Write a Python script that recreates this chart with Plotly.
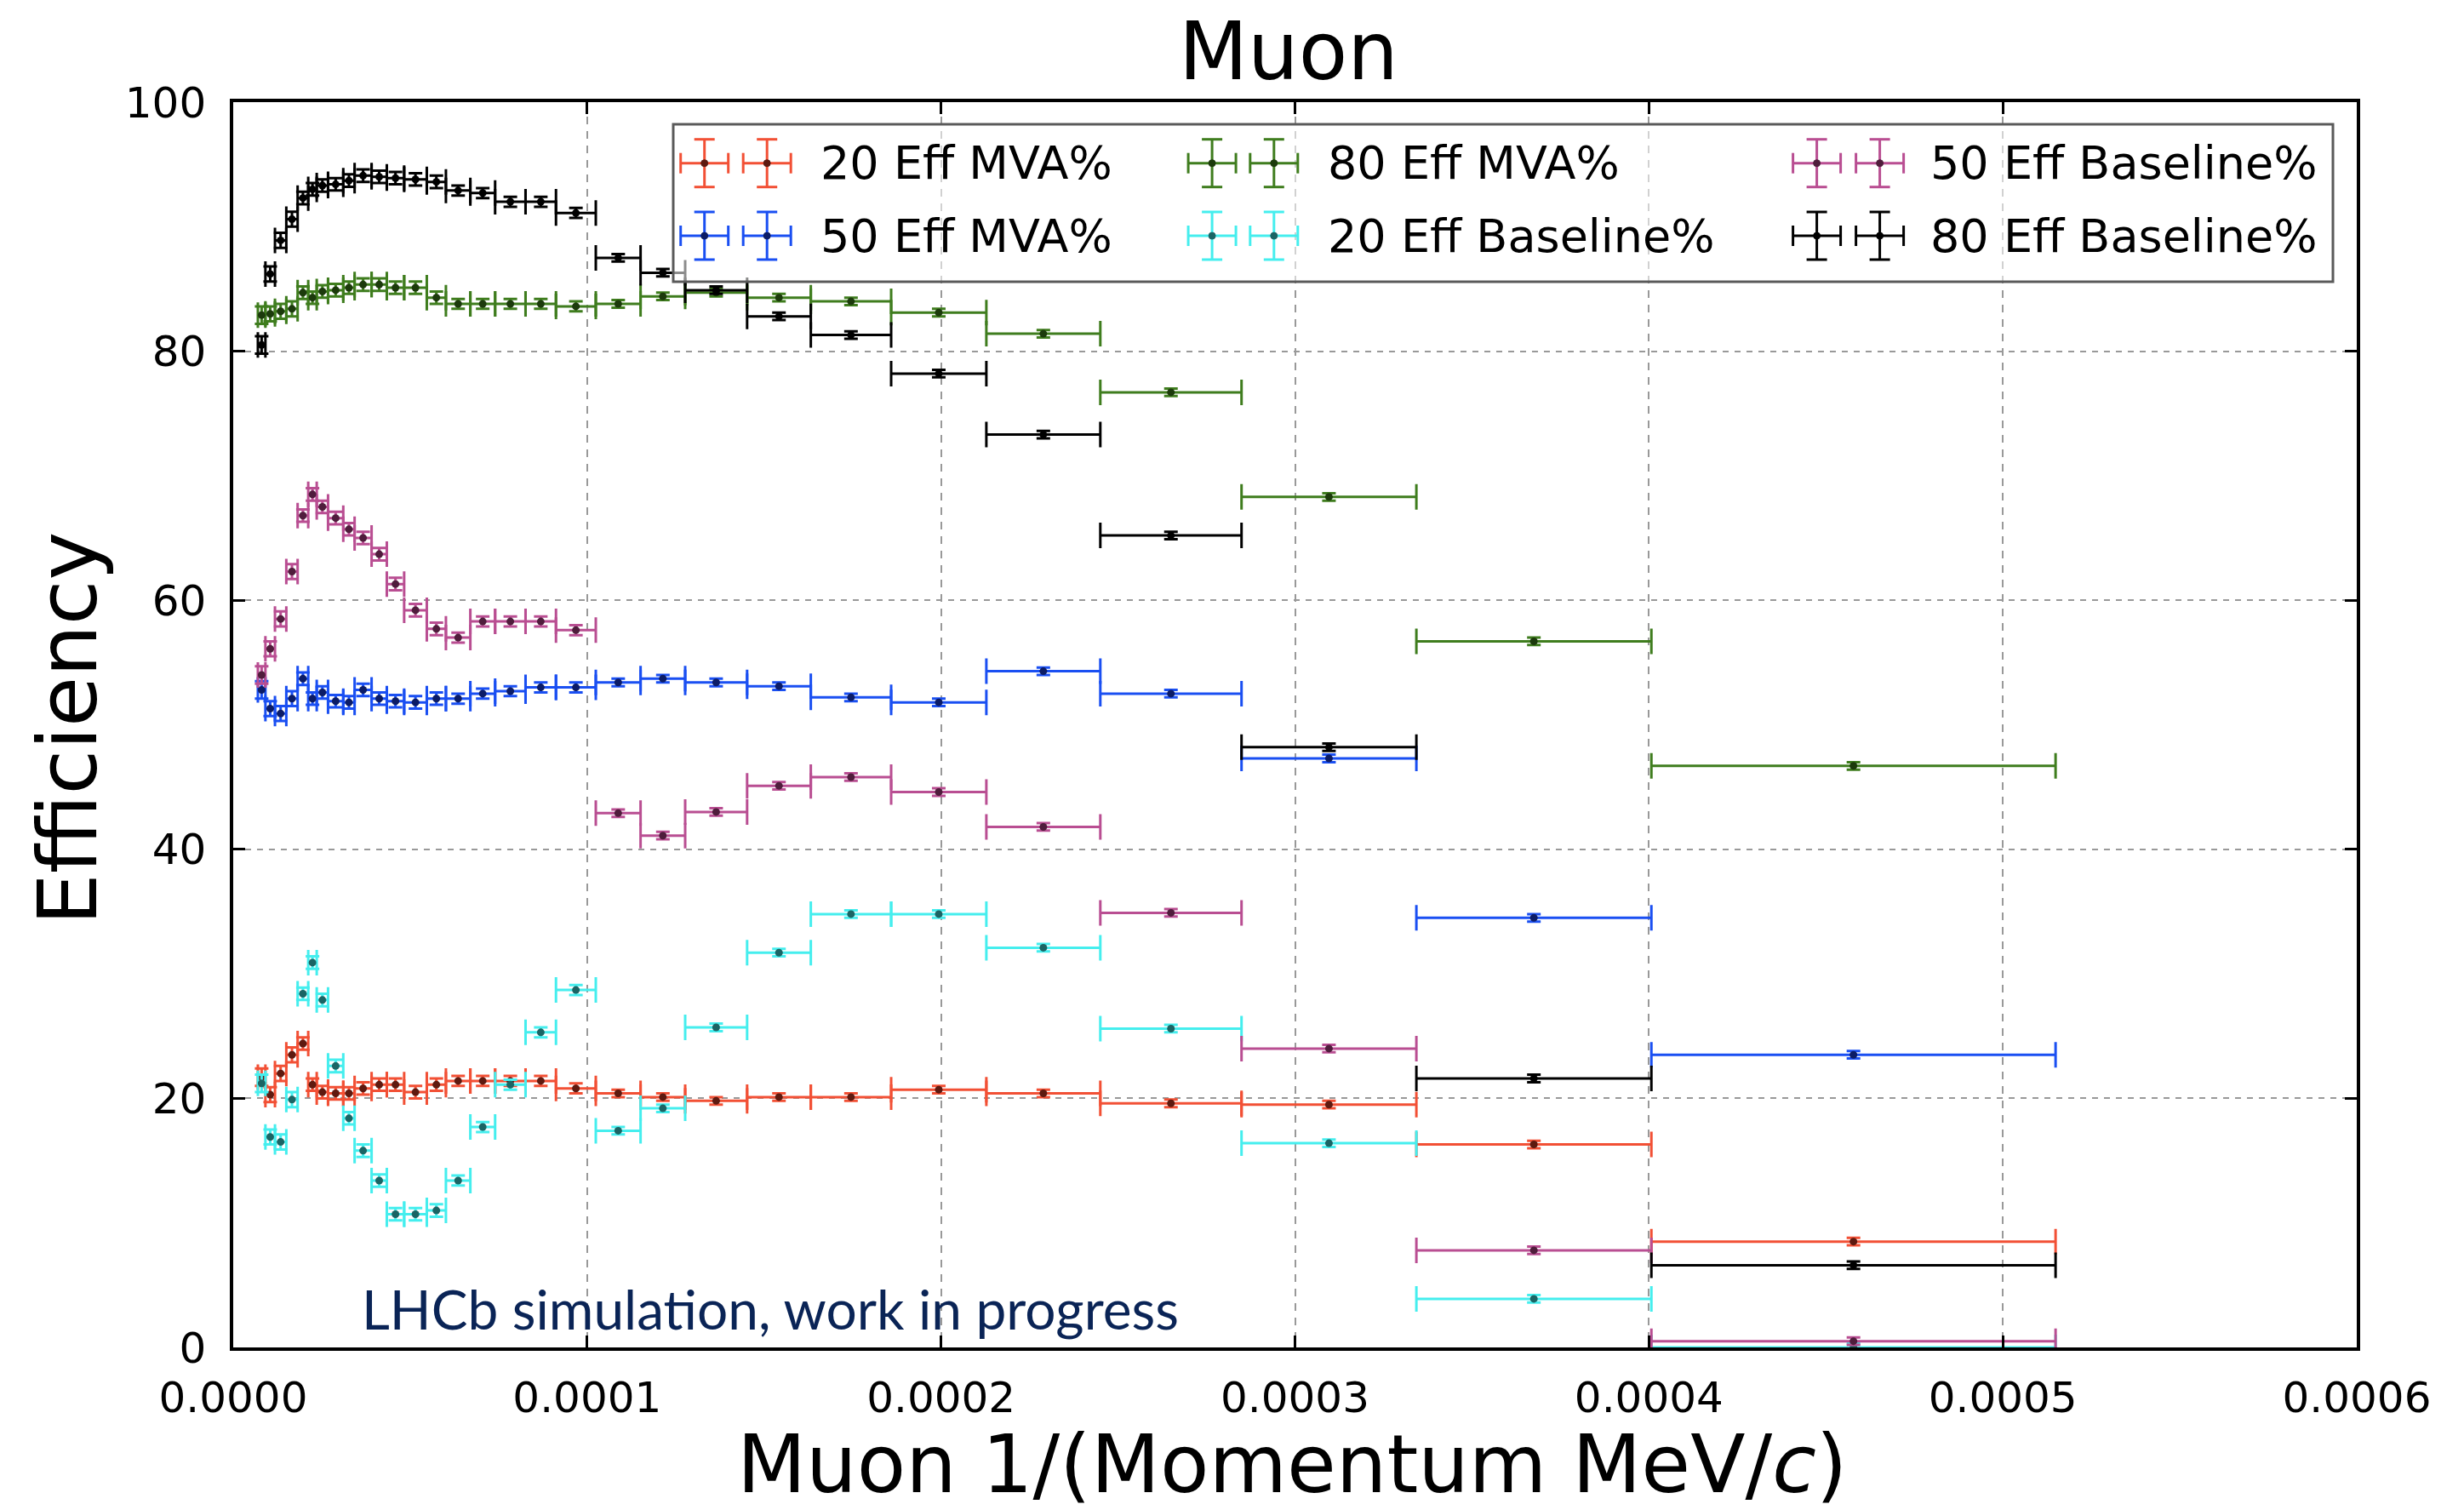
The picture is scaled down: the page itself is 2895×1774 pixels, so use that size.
import plotly.graph_objects as go

# ---------------- data ----------------
# bin edges of Muon 1/(Momentum MeV/c), in units of 1e-4
bin_edges_e4 = [0.0697, 0.091, 0.118, 0.150, 0.182, 0.212, 0.236, 0.268, 0.311, 0.343,
                0.391, 0.434, 0.483, 0.547, 0.601, 0.670, 0.740, 0.826, 0.912, 1.0245,
                1.151, 1.277, 1.452, 1.632, 1.859, 2.128, 2.450, 2.849, 3.343, 4.007, 5.149]

eff_20_mva = [21.7, 20.3, 22.0, 23.5, 24.4, 21.1, 20.5, 20.4, 20.4, 20.8,
              21.1, 21.1, 20.5, 21.1, 21.4, 21.4, 21.4, 21.4, 20.8, 20.4,
              20.1, 19.8, 20.1, 20.1, 20.7, 20.4, 19.6, 19.5, 16.3, 8.5]
eff_50_mva = [52.8, 51.3, 50.9, 52.1, 53.7, 52.1, 52.6, 51.9, 51.8, 52.8,
              52.1, 51.9, 51.8, 52.1, 52.1, 52.5, 52.7, 53.0, 53.0, 53.4,
              53.7, 53.4, 53.1, 52.2, 51.8, 54.3, 52.5, 47.3, 34.5, 23.5]
eff_80_mva = [82.9, 83.0, 83.2, 83.4, 84.7, 84.3, 84.8, 84.9, 85.1, 85.35,
              85.35, 85.1, 85.1, 84.3, 83.8, 83.8, 83.8, 83.8, 83.6, 83.8,
              84.4, 84.7, 84.3, 84.0, 83.1, 81.4, 76.7, 68.3, 56.7, 46.7]
eff_20_base = [21.2, 16.9, 16.5, 19.9, 28.4, 30.9, 27.9, 22.6, 18.4, 15.8,
               13.4, 10.7, 10.7, 11.0, 13.4, 17.7, 21.1, 25.3, 28.7, 17.4,
               19.2, 25.7, 31.7, 34.8, 34.8, 32.1, 25.6, 16.4, 3.9, 0.0]
eff_50_base = [54.0, 56.1, 58.5, 62.3, 66.8, 68.5, 67.5, 66.6, 65.7, 65.0,
               63.7, 61.3, 59.2, 57.7, 57.0, 58.3, 58.3, 58.3, 57.6, 42.9,
               41.1, 43.0, 45.1, 45.8, 44.6, 41.8, 34.9, 24.0, 7.8, 0.5]
eff_80_base = [80.5, 86.2, 88.9, 90.6, 92.3, 93.0, 93.3, 93.4, 93.7, 94.1,
               94.0, 93.9, 93.8, 93.6, 92.9, 92.7, 92.0, 92.0, 91.1, 87.5,
               86.3, 84.9, 82.8, 81.3, 78.2, 73.3, 65.2, 48.2, 21.6, 6.6]
eff_err = [0.7, 0.6, 0.6, 0.6, 0.5, 0.5, 0.5, 0.5, 0.5, 0.5,
           0.5, 0.5, 0.5, 0.5, 0.4, 0.4, 0.4, 0.4, 0.4, 0.3,
           0.3, 0.3, 0.3, 0.3, 0.3, 0.3, 0.3, 0.3, 0.3, 0.3]

series_names = ["20 Eff MVA%", "50 Eff MVA%", "80 Eff MVA%",
                "20 Eff Baseline%", "50 Eff Baseline%", "80 Eff Baseline%"]
series_values = [eff_20_mva, eff_50_mva, eff_80_mva, eff_20_base, eff_50_base, eff_80_base]

x_tick_vals = [0.0, 0.0001, 0.0002, 0.0003, 0.0004, 0.0005, 0.0006]
x_tick_text = ["0.0000", "0.0001", "0.0002", "0.0003", "0.0004", "0.0005", "0.0006"]
y_tick_vals = [0, 20, 40, 60, 80, 100]

# ---------------- style ----------------
line_colors = ["#f25035", "#1a4ff2", "#3f7d1e", "#45eeee", "#b94e92", "#000000"]
dot_colors = ["#5e1a10", "#0c1c66", "#1c3a0c", "#1b6464", "#4f1d3c", "#000000"]

W, H = 2895, 1774
L, R, T, B = 274, 126, 120, 191
PW, PH = W - L - R, H - T - B


def fx(px):
    return (px - L) / PW


def fy(py):
    return (H - B - py) / PH


lo = [e * 1e-4 for e in bin_edges_e4[:-1]]
hi = [e * 1e-4 for e in bin_edges_e4[1:]]
centers = [(a + b) / 2 for a, b in zip(lo, hi)]
half_w = [(b - a) / 2 for a, b in zip(lo, hi)]

fig = go.Figure()
for name, vals, lc, dc in zip(series_names, series_values, line_colors, dot_colors):
    fig.add_trace(go.Scatter(
        x=centers, y=vals, mode="markers", name=name, showlegend=False,
        marker=dict(size=9, color=dc),
        error_x=dict(type="data", array=half_w, color=lc, thickness=3, width=15),
        error_y=dict(type="data", array=eff_err, color=lc, thickness=3, width=8),
    ))

font_main = "DejaVu Sans"
fig.update_layout(
    width=W, height=H,
    margin=dict(l=L, r=R, t=T, b=B, pad=0),
    paper_bgcolor="white", plot_bgcolor="white",
    font=dict(family=font_main, color="black"),
    showlegend=False,
)
axis_common = dict(
    showline=True, linewidth=3.5, linecolor="black", mirror="allticks",
    ticks="inside", ticklen=14, tickwidth=2.5, tickcolor="black",
    showgrid=True, gridcolor="#999999", gridwidth=2,
    zeroline=False, tickfont=dict(family=font_main, size=50, color="black"),
)
fig.update_xaxes(range=[0, 0.0006], tickvals=x_tick_vals, ticktext=x_tick_text,
                 griddash="9px,8px", ticklabelstandoff=12, **axis_common)
fig.update_yaxes(range=[0, 100], tickvals=y_tick_vals, griddash="7px,7px",
                 ticklabelstandoff=18, **axis_common)

ann = []
ann.append(dict(text="Muon", x=fx(1514), y=fy(60), xref="paper", yref="paper",
                xanchor="center", yanchor="middle", showarrow=False,
                font=dict(family=font_main, size=94, color="black")))
ann.append(dict(text="Muon 1/(Momentum MeV/<i>c</i>)", x=fx(1518), y=fy(1720),
                xref="paper", yref="paper", xanchor="center", yanchor="middle",
                showarrow=False, font=dict(family=font_main, size=94, color="black")))
ann.append(dict(text="Efficiency", x=fx(80), y=fy(856), xref="paper", yref="paper",
                xanchor="center", yanchor="middle", textangle=-90, showarrow=False,
                font=dict(family=font_main, size=96, color="black")))
ann.append(dict(text="LHCb simulation, work in progress", x=fx(423), y=fy(1537),
                xref="paper", yref="paper", xanchor="left", yanchor="middle",
                showarrow=False, font=dict(family="Lato", size=64, color="#0a2456")))

shapes = []
# legend frame
shapes.append(dict(type="rect", xref="paper", yref="paper",
                   x0=fx(791), x1=fx(2741), y0=fy(331), y1=fy(146),
                   line=dict(color="#5a5a5a", width=3),
                   fillcolor="rgba(255,255,255,0.55)", layer="above"))

legend_cols = [(827.7, 901.2, 962), (1424.1, 1496.8, 1558), (2134.6, 2208.6, 2266)]
legend_rows = [191.7, 277.0]
arm, cap = 28, 12
for i, (name, lc, dc) in enumerate(zip(series_names, line_colors, dot_colors)):
    c1, c2, tx = legend_cols[i // 2]
    cy = legend_rows[i % 2]
    for cx in (c1, c2):
        segs = [
            (cx - arm, cy, cx + arm, cy),
            (cx, cy - arm, cx, cy + arm),
            (cx - arm, cy - cap, cx - arm, cy + cap),
            (cx + arm, cy - cap, cx + arm, cy + cap),
            (cx - cap, cy - arm, cx + cap, cy - arm),
            (cx - cap, cy + arm, cx + cap, cy + arm),
        ]
        for x0, y0, x1, y1 in segs:
            shapes.append(dict(type="line", xref="paper", yref="paper",
                               x0=fx(x0), x1=fx(x1), y0=fy(y0), y1=fy(y1),
                               line=dict(color=lc, width=3), layer="above"))
        shapes.append(dict(type="circle", xref="paper", yref="paper",
                           x0=fx(cx - 4), x1=fx(cx + 4), y0=fy(cy + 4), y1=fy(cy - 4),
                           line=dict(color=dc, width=1), fillcolor=dc, layer="above"))
    ann.append(dict(text=name, x=fx(tx), y=fy(cy), xref="paper", yref="paper",
                    xanchor="left", yanchor="middle", showarrow=False,
                    font=dict(family=font_main, size=54, color="black")))

fig.update_layout(annotations=ann, shapes=shapes)
fig.write_html("out.html")
